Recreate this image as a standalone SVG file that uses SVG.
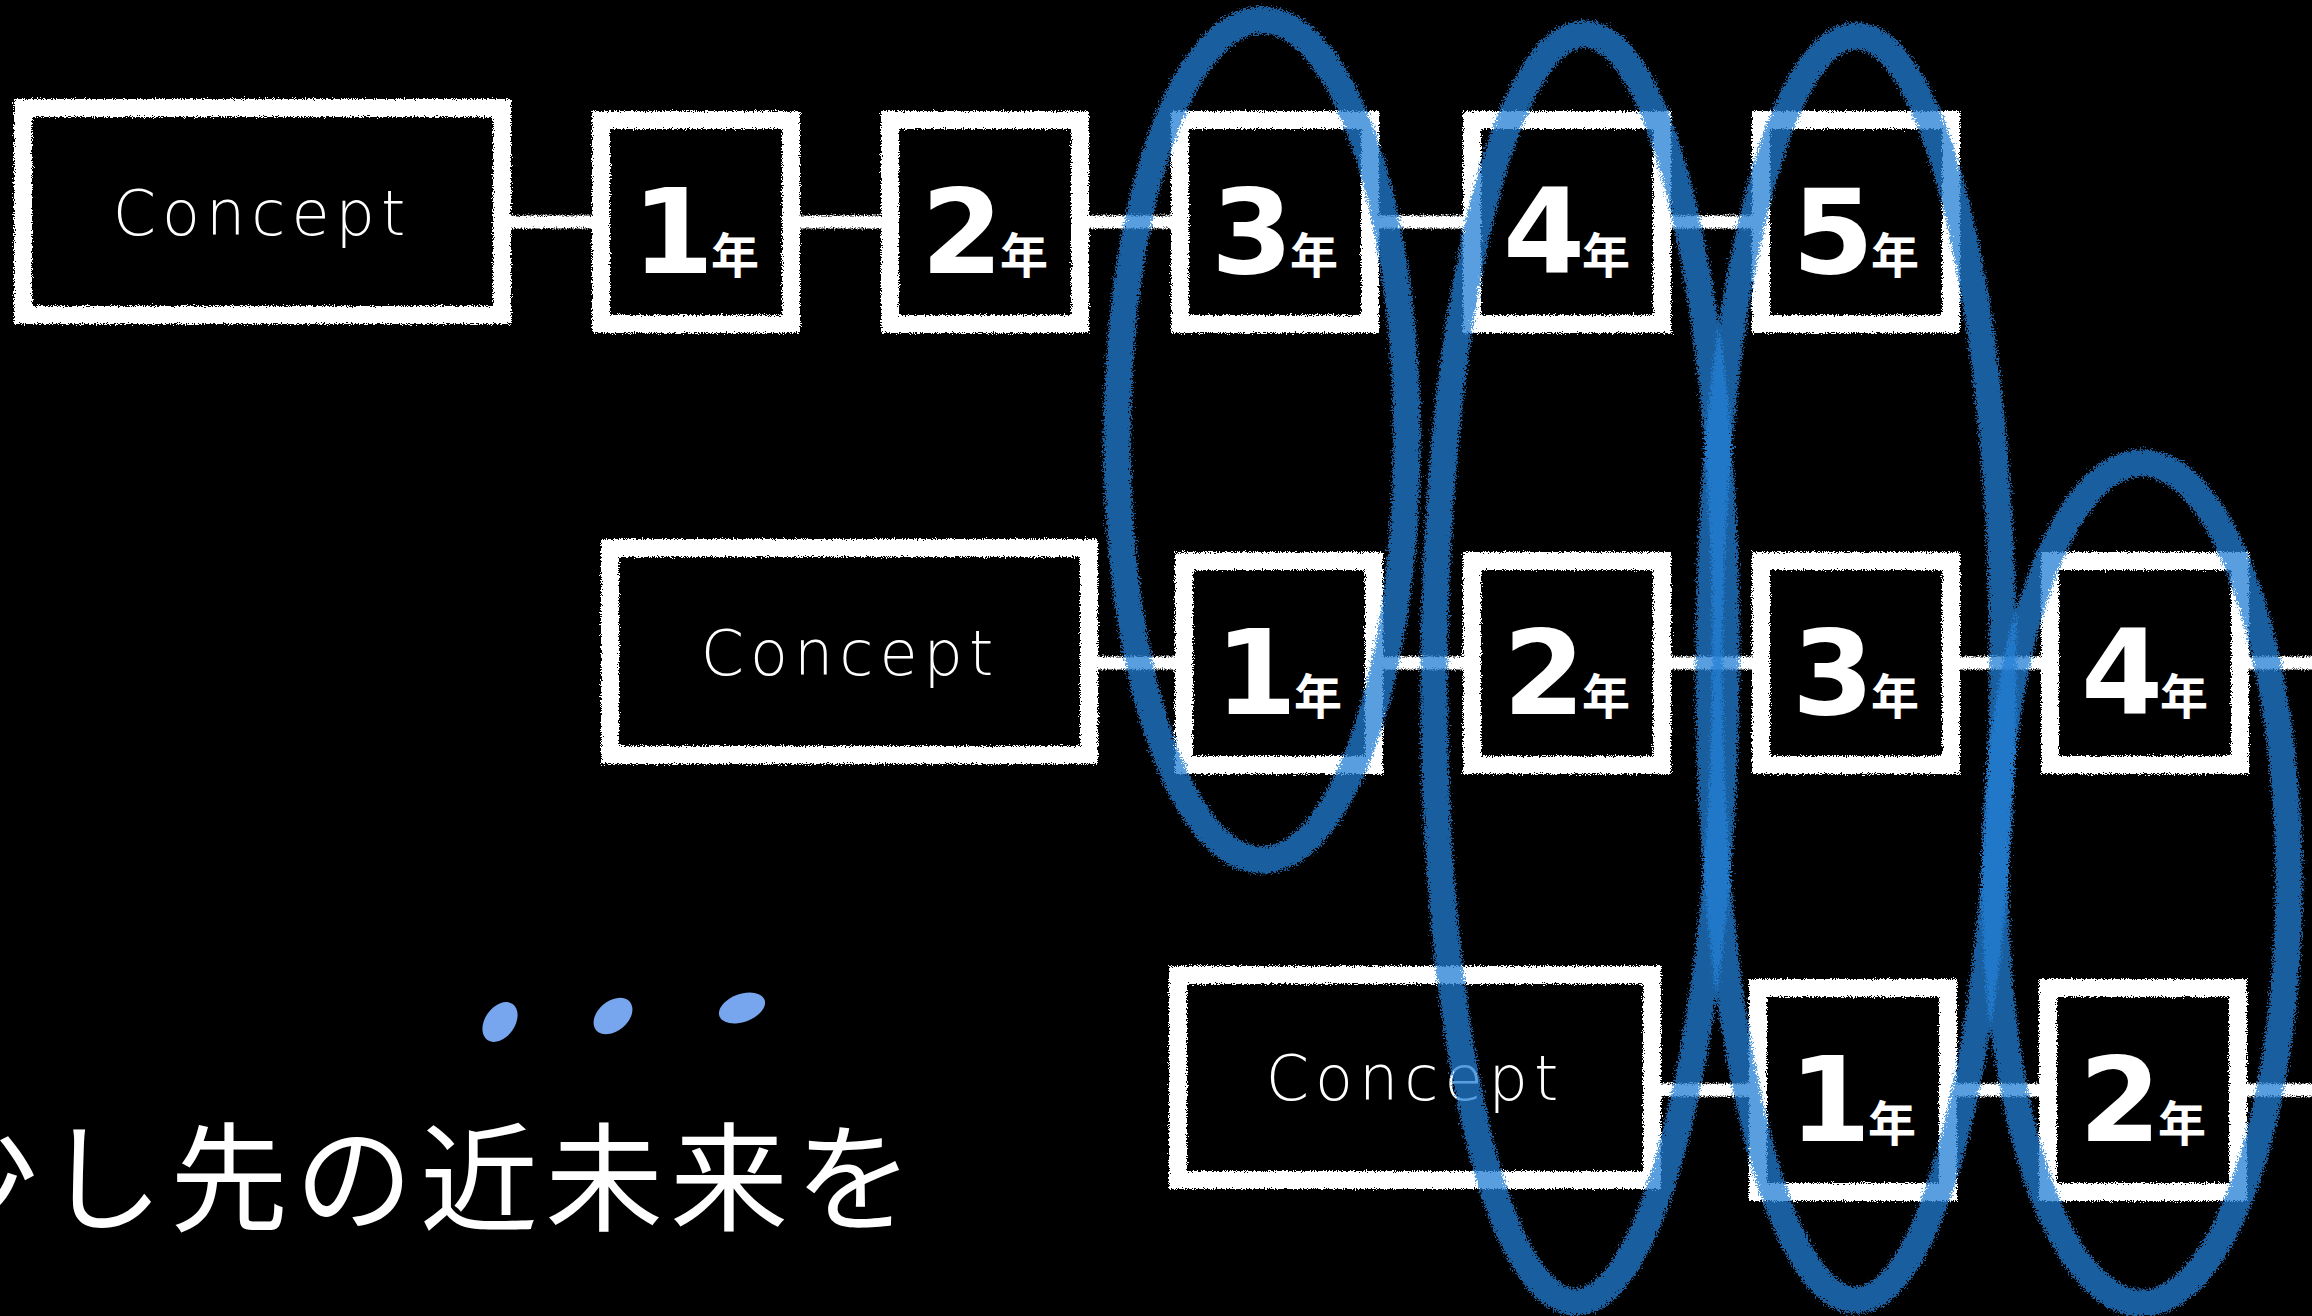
<svg xmlns="http://www.w3.org/2000/svg" width="2312" height="1316" viewBox="0 0 2312 1316">
<defs>
<filter id="chalk" filterUnits="userSpaceOnUse" x="0" y="0" width="2312" height="1316">
<feTurbulence type="fractalNoise" baseFrequency="0.9" numOctaves="2" seed="3" result="n"/>
<feDisplacementMap in="SourceGraphic" in2="n" scale="7" xChannelSelector="R" yChannelSelector="G"/>
</filter>
<filter id="crayon" filterUnits="userSpaceOnUse" x="0" y="0" width="2312" height="1316">
<feTurbulence type="fractalNoise" baseFrequency="0.6" numOctaves="3" seed="8" result="n"/>
<feDisplacementMap in="SourceGraphic" in2="n" scale="13" xChannelSelector="R" yChannelSelector="G"/>
</filter>
<style>
.box{fill:#000;stroke:#fff;stroke-width:18}
.line{stroke:#fff;stroke-width:13;stroke-linecap:round}
.concept{fill:#fff;font-family:"DejaVu Sans",sans-serif;font-weight:200;font-size:62px;letter-spacing:6px;text-anchor:middle}
.num{fill:#fff;font-family:"DejaVu Sans",sans-serif;font-weight:700;font-size:118px;text-anchor:middle}
.nen{fill:#fff;font-family:"Noto Sans CJK JP",sans-serif;font-weight:700;font-size:48px}
.ring{fill:none;stroke:#237fd5;stroke-opacity:0.75;stroke-width:27}
.hand{fill:#fff;font-family:"Noto Sans CJK JP",sans-serif;font-size:118px;letter-spacing:7px}
.dot{fill:#78a6ee}
</style>
</defs>
<rect width="2312" height="1316" fill="#000"/>
<g id="connectors" filter="url(#chalk)">
<line class="line" x1="502" y1="222" x2="1760" y2="222"/>
<line class="line" x1="1089" y1="663" x2="2312" y2="663"/>
<line class="line" x1="1652" y1="1090" x2="2312" y2="1090"/>
</g>
<g id="row1">
<g id="r1-concept"><rect class="box" x="23" y="108" width="479" height="207" filter="url(#chalk)"/><text class="concept" x="262" y="235">Concept</text></g>
<g id="r1-y1"><rect class="box" x="601" y="120" width="190" height="204" filter="url(#chalk)"/><text class="num" x="673" y="273">1</text><text class="nen" x="711" y="273">年</text></g>
<g id="r1-y2"><rect class="box" x="890" y="120" width="190" height="204" filter="url(#chalk)"/><text class="num" x="962" y="273">2</text><text class="nen" x="1000" y="273">年</text></g>
<g id="r1-y3"><rect class="box" x="1180" y="120" width="190" height="204" filter="url(#chalk)"/><text class="num" x="1252" y="273">3</text><text class="nen" x="1290" y="273">年</text></g>
<g id="r1-y4"><rect class="box" x="1472" y="120" width="190" height="204" filter="url(#chalk)"/><text class="num" x="1544" y="273">4</text><text class="nen" x="1582" y="273">年</text></g>
<g id="r1-y5"><rect class="box" x="1761" y="120" width="190" height="204" filter="url(#chalk)"/><text class="num" x="1833" y="273">5</text><text class="nen" x="1871" y="273">年</text></g>
</g>
<g id="row2">
<g id="r2-concept"><rect class="box" x="610" y="548" width="479" height="207" filter="url(#chalk)"/><text class="concept" x="850" y="675">Concept</text></g>
<g id="r2-y1"><rect class="box" x="1184" y="561" width="190" height="204" filter="url(#chalk)"/><text class="num" x="1256" y="714">1</text><text class="nen" x="1294" y="714">年</text></g>
<g id="r2-y2"><rect class="box" x="1472" y="561" width="190" height="204" filter="url(#chalk)"/><text class="num" x="1544" y="714">2</text><text class="nen" x="1582" y="714">年</text></g>
<g id="r2-y3"><rect class="box" x="1761" y="561" width="190" height="204" filter="url(#chalk)"/><text class="num" x="1833" y="714">3</text><text class="nen" x="1871" y="714">年</text></g>
<g id="r2-y4"><rect class="box" x="2050" y="561" width="190" height="204" filter="url(#chalk)"/><text class="num" x="2122" y="714">4</text><text class="nen" x="2160" y="714">年</text></g>
</g>
<g id="row3">
<g id="r3-concept"><rect class="box" x="1178" y="975" width="474" height="205" filter="url(#chalk)"/><text class="concept" x="1415" y="1100">Concept</text></g>
<g id="r3-y1"><rect class="box" x="1758" y="988" width="190" height="204" filter="url(#chalk)"/><text class="num" x="1830" y="1141">1</text><text class="nen" x="1868" y="1141">年</text></g>
<g id="r3-y2"><rect class="box" x="2048" y="988" width="190" height="204" filter="url(#chalk)"/><text class="num" x="2120" y="1141">2</text><text class="nen" x="2158" y="1141">年</text></g>
</g>
<g id="highlights" filter="url(#crayon)">
<ellipse class="ring" cx="1262" cy="440" rx="145" ry="420"/>
<ellipse class="ring" cx="1580" cy="668" rx="146" ry="634" transform="rotate(0.4 1580 668)"/>
<ellipse class="ring" cx="1856" cy="668" rx="147" ry="632"/>
<ellipse class="ring" cx="2142" cy="883" rx="147" ry="420"/>
</g>
<g id="caption">
<text class="hand" x="-80" y="1222">少し先の近未来を</text>
<ellipse class="dot" cx="500" cy="1022" rx="22" ry="15" transform="rotate(-55 500 1022)"/>
<ellipse class="dot" cx="613" cy="1016" rx="22" ry="15" transform="rotate(-40 613 1016)"/>
<ellipse class="dot" cx="742" cy="1008" rx="24" ry="14" transform="rotate(-20 742 1008)"/>
</g>
</svg>
